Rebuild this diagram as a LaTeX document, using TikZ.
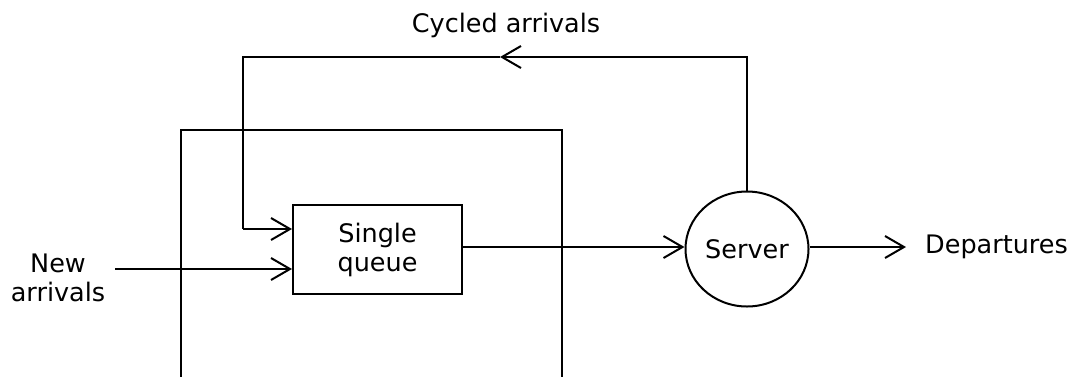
\documentclass[tikz,border=0pt]{standalone}
\usepackage{fontspec}
\setmainfont{DejaVu Sans}
\usetikzlibrary{arrows.meta,positioning,shapes.geometric}

\begin{document}
\begin{tikzpicture}[x=1pt,y=-1pt,
 txt/.style={font=\fontsize{25.5}{29}\selectfont,inner sep=0pt},
 queueBox/.style={draw,line width=2pt,minimum width=169pt,minimum height=89pt,
 inner sep=0pt,align=center,txt},
 serverNode/.style={draw,ellipse,line width=2pt,minimum width=123pt,
 minimum height=115pt,inner sep=0pt,txt},
 line/.style={line width=2pt},
 arr/.style={line,-{Straight Barb[length=19pt,width=22pt,line width=2pt]}}]
 \useasboundingbox (0,0) rectangle (1079,376);
 % open frame round the queue
 \draw[line] (181,380) |- (562,130) -- (562,380);
 \node[queueBox] (queue) at (377.5,249.5) {Single\\queue};
 \node[serverNode] (server) at (747,249) {Server};
 \node[txt,align=center] (newArr) at (58,278) {New\\arrivals};
 \node[txt,anchor=base] (cycLabel) at (506,32) {Cycled arrivals};
 \node[txt,anchor=west] (depart) at (925,247) {Departures};
 \coordinate (newStart) at (115,269);
 \coordinate (cycMid) at (500,57);
 \coordinate (cycCorner) at (243,57);
 \coordinate (depEnd) at (906,247);
 % arrivals into the queue
 \draw[arr] (newStart) -- (newStart -| queue.west);
 \draw[arr] (server.north) |- (cycMid);
 \draw[line] (cycMid) -- (cycCorner) -- (cycCorner |- 0,229);
 \draw[arr] (cycCorner |- 0,229) -- (queue.west |- 0,229);
 % queue to server and out
 \draw[arr] (queue.east |- 0,247) -- (server.west |- 0,247);
 \draw[arr] (server.east |- 0,247) -- (depEnd);
\end{tikzpicture}
\end{document}
